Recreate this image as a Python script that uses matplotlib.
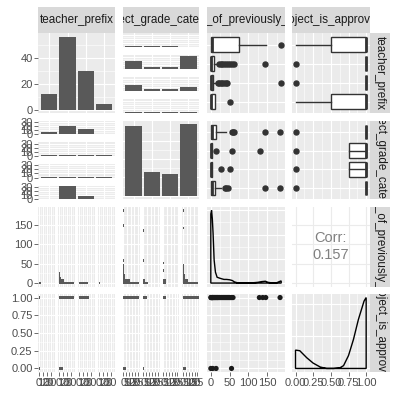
import numpy as np
import matplotlib
matplotlib.use('Agg')
import matplotlib.pyplot as plt

plt.rcParams['font.family'] = ['Liberation Sans', 'DejaVu Sans']

W = H = 397
DPI = 100

# ---------------- data ----------------
var_names = ['teacher_prefix', 'project_grade_category',
             'teacher_number_of_previously_posted_projects', 'project_is_approved']

prefix_counts = [12, 56, 30, 4]           # diag row1
grade_counts = [38, 13, 12, 39]           # diag row2

# upper facet bars (row1,col2): facets = prefix levels (top->bottom), x = grade
prefix_by_grade = [[2, 2, 2, 0], [19, 5, 5, 31], [14, 5, 5, 10], [2, 2, 2, 2]]
# lower facet bars (row2,col1): facets = grade levels (top->bottom), x = prefix
grade_by_prefix = [[5, 20, 14, 1], [2, 2, 2, 1], [2, 2, 2, 2], [0, 32, 8, 1]]

# boxplots of previously posted projects (top->bottom): whislo, q1, med, q3, whishi
prev_box_prefix = [[0, 0, 3, 74, 147], [0, 0, 1, 8, 17], [0, 0, 1, 6, 14], [0, 0, 0, 12, 12]]
prev_out_prefix = [[186], [22, 26, 30, 35, 40, 45, 50, 56, 62, 144],
                   [18, 22, 26, 30, 35, 40, 44, 186], [50]]
prev_box_grade = [[0, 0, 2, 15, 41], [0, 0, 1, 4, 4], [0, 0, 1, 3, 3], [0, 0, 2, 11, 28]]
prev_out_grade = [[55, 58, 62, 145, 184], [15, 56, 131], [28, 50], [37, 40, 45, 145, 184]]

# boxplots of project_is_approved (top->bottom)
appr_box_prefix = [[0, 0.5, 1, 1, 1], [1, 1, 1, 1, 1], [1, 1, 1, 1, 1], [0, 0.5, 1, 1, 1]]
appr_out_prefix = [[], [0], [0], []]
appr_box_grade = [[1, 1, 1, 1, 1], [1, 0.75, 1, 1, 1], [1, 0.75, 1, 1, 1], [1, 1, 1, 1, 1]]
appr_out_grade = [[0], [0], [0], [0]]

# histograms of previously posted projects (30 bins over 0..187), bin index -> count
prev_max = 187
prev_hist_prefix_bins = [[0, 9, 20, 29], [0, 1, 2, 3, 4, 5, 6, 7, 9, 22],
                         [0, 1, 2, 3, 4, 5, 6, 29], [0, 8]]
prev_hist_prefix_counts = [[5, 1, 1, 1], [38, 12, 4, 3, 3, 1, 1, 1, 1, 1],
                           [23, 1, 1, 1, 1, 1, 1, 1], [4, 1]]
prev_hist_grade_bins = [[0, 1, 2, 3, 4, 5, 6, 7, 9, 23, 29], [0, 1, 9, 21],
                        [0, 1, 5, 8], [0, 1, 2, 3, 4, 5, 6, 7, 22, 29]]
prev_hist_grade_counts = [[21, 9, 2, 2, 1, 1, 1, 1, 1, 1, 1], [7, 2, 1, 1],
                          [4, 4, 1, 1], [20, 7, 2, 2, 1, 1, 1, 1, 1, 1]]

# histograms of project_is_approved: counts at [0, 1]
appr_hist_prefix = [[2, 3], [9, 38], [1, 26], [0, 1]]
appr_hist_grade = [[5, 27], [1, 7], [0, 5], [5, 27]]

# scatter previously posted vs approved
scatter_prev_approved = [0, 1, 2, 3, 4, 5, 6, 8, 10, 12, 14, 16, 18, 20, 23, 26, 29, 32,
                         35, 38, 41, 44, 47, 50, 53, 56, 59, 129, 138, 146, 184]
scatter_prev_rejected = [0, 5, 14, 55]

# density of previously posted projects
prev_dens_x = [0, 2, 4, 6, 8.8, 12.3, 16.7, 22, 28, 35, 42, 50, 57, 63, 70, 85, 110,
               125, 135, 145, 152, 160, 175, 182, 187]
prev_dens_y = [0.057, 0.060, 0.053, 0.041, 0.019, 0.009, 0.0048, 0.0042, 0.0036, 0.003,
               0.003, 0.0027, 0.0021, 0.0009, 0.0003, 0.0002, 0.0002, 0.0006, 0.0012,
               0.0015, 0.0006, 0.00025, 0.00025, 0.0012, 0.0018]

# density of project_is_approved
appr_dens_x = [0, 0.06, 0.16, 0.25, 0.35, 0.44, 0.54, 0.63, 0.68, 0.75, 0.82, 0.89, 0.97, 1.0]
appr_dens_y = [0.57, 0.55, 0.33, 0.165, 0.044, 0.0, 0.0, 0.022, 0.088, 0.40, 0.90, 1.52, 2.09, 2.2]

corr_value = 0.157

# ---------------- layout ----------------
cols = [(38.3, 115.0), (122.7, 199.3), (207.3, 284.7), (292.0, 369.7)]
rows = [(33.3, 113.3), (120.7, 199.3), (206.7, 286.7), (294.0, 372.0)]
strip_top = (7.3, 33.3)
strip_right = (369.7, 390.0)

BG = '#EBEBEB'
BAR = '#595959'
DARK = '#333333'
TXT = '#4D4D4D'
FS = 8

fig = plt.figure(figsize=(W / DPI, H / DPI), dpi=DPI)
fig.patch.set_facecolor('white')


def add_ax(x0, x1, y0, y1):
    return fig.add_axes([x0 / W, 1 - y1 / H, (x1 - x0) / W, (y1 - y0) / H])


def style(ax, xmaj, xmin, ymaj, ymin, xlim, ylim, bg=BG, gc='white', minor=True):
    ax.set_facecolor(bg)
    for s in ax.spines.values():
        s.set_visible(False)
    ax.set_xticks(xmaj)
    ax.set_yticks(ymaj)
    ax.set_xticks(xmin, minor=True)
    ax.set_yticks(ymin, minor=True)
    ax.grid(True, which='major', color=gc, linewidth=0.8)
    if minor:
        ax.grid(True, which='minor', color=gc, linewidth=0.4)
    ax.set_axisbelow(True)
    ax.tick_params(which='both', length=0, labelleft=False, labelbottom=False)
    ax.set_xlim(*xlim)
    ax.set_ylim(*ylim)


def left_labels(ax, labels):
    ax.tick_params(axis='y', which='major', length=2.6, width=0.5, color=DARK,
                   labelleft=True, labelsize=FS, labelcolor=TXT, pad=1.5)
    ax.set_yticklabels(labels)


def bottom_labels(ax, labels):
    ax.tick_params(axis='x', which='major', length=2.6, width=0.5, color=DARK,
                   labelbottom=True, labelsize=FS, labelcolor=TXT, pad=1.5)
    ax.set_xticklabels(labels)


def hsplit(x0, x1, n=4, gap=3.0):
    w = (x1 - x0 - gap * (n - 1)) / n
    return [(x0 + k * (w + gap), x0 + k * (w + gap) + w) for k in range(n)]


def vsplit(y0, y1, n=4, gap=8.0):
    h = (y1 - y0 - gap * (n - 1)) / n
    return [(y0 + k * (h + gap), y0 + k * (h + gap) + h) for k in range(n)]


cat_pos = [1, 2, 3, 4]
cat_lim = (0.4, 4.6)
prev_lim = (-0.05 * prev_max, 1.05 * prev_max)
prev_maj = [0, 50, 100, 150]
prev_min = [25, 75, 125, 175]
appr_lim = (-0.05, 1.05)
appr_maj = [0, 0.25, 0.5, 0.75, 1.0]
appr_min = [0.125, 0.375, 0.625, 0.875]
bw_prev = prev_max / 29.0
bw_appr = 1 / 29.0

# ---------- strips ----------
for j, (x0, x1) in enumerate(cols):
    s = add_ax(x0, x1, strip_top[0], strip_top[1])
    s.set_facecolor('#D9D9D9')
    s.set_xticks([]); s.set_yticks([])
    for sp in s.spines.values():
        sp.set_visible(False)
    s.text(0.5, 0.5, var_names[j], ha='center', va='center', fontsize=8.4,
           color='#1A1A1A', transform=s.transAxes, clip_on=True)
for i, (y0, y1) in enumerate(rows):
    s = add_ax(strip_right[0], strip_right[1], y0, y1)
    s.set_facecolor('#D9D9D9')
    s.set_xticks([]); s.set_yticks([])
    for sp in s.spines.values():
        sp.set_visible(False)
    s.text(0.5, 0.5, var_names[i], ha='center', va='center', rotation=-90, fontsize=8.4,
           color='#1A1A1A', transform=s.transAxes, clip_on=True)

# ---------- row 1 ----------
ax = add_ax(*cols[0], *rows[0])
m = max(prefix_counts)
style(ax, cat_pos, [], [0, 20, 40], [10, 30, 50], cat_lim, (-0.05 * m, 1.05 * m))
ax.bar(cat_pos, prefix_counts, width=0.9, color=BAR)
left_labels(ax, ['0', '20', '40'])

for k, (y0, y1) in enumerate(vsplit(*rows[0])):
    ax = add_ax(*cols[1], y0, y1)
    style(ax, cat_pos, [], [0, 10, 20, 30], [5, 15, 25], cat_lim, (-0.3, 33.5))
    ax.bar(cat_pos, prefix_by_grade[k], width=0.9, color=BAR)


def boxes(ax, qs, outs):
    stats = []
    for q, o in zip(qs, outs):
        stats.append(dict(whislo=q[0], q1=q[1], med=q[2], q3=q[3], whishi=q[4],
                          fliers=np.array(o, dtype=float)))
    kw = dict(positions=[4, 3, 2, 1], widths=0.78, showcaps=False, patch_artist=True,
              boxprops=dict(facecolor='white', edgecolor=DARK, linewidth=1.0),
              whiskerprops=dict(color=DARK, linewidth=1.0),
              medianprops=dict(color=DARK, linewidth=2.0),
              flierprops=dict(marker='o', markerfacecolor=DARK, markeredgecolor=DARK,
                              markersize=3.6, linestyle='none'),
              manage_ticks=False)
    try:
        ax.bxp(stats, orientation='horizontal', **kw)
    except TypeError:
        ax.bxp(stats, vert=False, **kw)


ax = add_ax(*cols[2], *rows[0])
style(ax, prev_maj, prev_min, cat_pos, [], prev_lim, cat_lim)
boxes(ax, prev_box_prefix, prev_out_prefix)

ax = add_ax(*cols[3], *rows[0])
style(ax, appr_maj, appr_min, cat_pos, [], appr_lim, cat_lim)
boxes(ax, appr_box_prefix, appr_out_prefix)

# ---------- row 2 ----------
for k, (y0, y1) in enumerate(vsplit(*rows[1])):
    ax = add_ax(*cols[0], y0, y1)
    style(ax, cat_pos, [], [0, 10, 20, 30], [5, 15, 25], cat_lim, (-0.3, 33.5))
    ax.bar(cat_pos, grade_by_prefix[k], width=0.9, color=BAR)
    left_labels(ax, ['0', '10', '20', '30'])

ax = add_ax(*cols[1], *rows[1])
m = max(grade_counts)
style(ax, cat_pos, [], [0, 10, 20, 30], [5, 15, 25, 35], cat_lim, (-0.05 * m, 1.05 * m))
ax.bar(cat_pos, grade_counts, width=0.9, color=BAR)

ax = add_ax(*cols[2], *rows[1])
style(ax, prev_maj, prev_min, cat_pos, [], prev_lim, cat_lim)
boxes(ax, prev_box_grade, prev_out_grade)

ax = add_ax(*cols[3], *rows[1])
style(ax, appr_maj, appr_min, cat_pos, [], appr_lim, cat_lim)
boxes(ax, appr_box_grade, appr_out_grade)

# ---------- row 3 ----------
def prev_hist_facets(col, bins_list, counts_list, cmax, xmaj, xmin):
    for k, (x0, x1) in enumerate(hsplit(*cols[col])):
        ax = add_ax(x0, x1, *rows[2])
        style(ax, xmaj, xmin, prev_maj, prev_min, (-0.05 * cmax, 1.05 * cmax), prev_lim)
        b = np.array(bins_list[k]) * bw_prev
        ax.barh(b, counts_list[k], height=bw_prev, color=BAR, left=0)
        if col == 0 and k == 0:
            left_labels(ax, ['0', '50', '100', '150'])


prev_hist_facets(0, prev_hist_prefix_bins, prev_hist_prefix_counts,
                 max(max(c) for c in prev_hist_prefix_counts), [0, 10, 20, 30], [5, 15, 25, 35])
prev_hist_facets(1, prev_hist_grade_bins, prev_hist_grade_counts,
                 max(max(c) for c in prev_hist_grade_counts), [0, 5, 10, 15, 20], [])

ax = add_ax(*cols[2], *rows[2])
m = max(prev_dens_y)
style(ax, prev_maj, prev_min, [0, 0.02, 0.04, 0.06], [0.01, 0.03, 0.05], prev_lim,
      (-0.05 * m, 1.05 * m))
dx = np.r_[prev_dens_x[0], prev_dens_x, prev_dens_x[-1]]
dy = np.r_[0, prev_dens_y, 0]
ax.fill(dx, dy, facecolor='none', edgecolor='black', linewidth=1.0)

ax = add_ax(*cols[3], *rows[2])
style(ax, appr_maj, [], prev_maj, [], appr_lim, prev_lim, bg='white', gc='#EBEBEB',
      minor=False)
ax.text(0.5, 0.5, 'Corr:\n%.3f' % corr_value, transform=ax.transAxes, ha='center',
        va='center', fontsize=10.5, color='#808080', linespacing=1.25)

# ---------- row 4 ----------
def appr_hist_facets(col, counts_list, cmax, xmaj, xmin, labels):
    for k, (x0, x1) in enumerate(hsplit(*cols[col])):
        ax = add_ax(x0, x1, *rows[3])
        style(ax, xmaj, xmin, appr_maj, appr_min, (-0.05 * cmax, 1.05 * cmax), appr_lim)
        ax.barh([0, 1], counts_list[k], height=bw_appr, color=BAR, left=0)
        bottom_labels(ax, labels)
        if col == 0 and k == 0:
            left_labels(ax, ['0.00', '0.25', '0.50', '0.75', '1.00'])


appr_hist_facets(0, appr_hist_prefix, max(max(c) for c in appr_hist_prefix),
                 [0, 10, 20, 30], [5, 15, 25, 35], ['0', '10', '20', '30'])
appr_hist_facets(1, appr_hist_grade, max(max(c) for c in appr_hist_grade),
                 [0, 5, 10, 15, 20, 25], [], ['0', '5', '10', '15', '20', '25'])

ax = add_ax(*cols[2], *rows[3])
style(ax, prev_maj, prev_min, appr_maj, appr_min, prev_lim, appr_lim)
ax.scatter(scatter_prev_approved, [1] * len(scatter_prev_approved), s=14, c='#1A1A1A',
           edgecolors='none', zorder=3)
ax.scatter(scatter_prev_rejected, [0] * len(scatter_prev_rejected), s=14, c='#1A1A1A',
           edgecolors='none', zorder=3)
bottom_labels(ax, ['0', '50', '100', '150'])

ax = add_ax(*cols[3], *rows[3])
m = max(appr_dens_y)
style(ax, appr_maj, appr_min, [0, 1, 2], [0.5, 1.5], appr_lim, (-0.05 * m, 1.05 * m))
dx = np.r_[appr_dens_x[0], appr_dens_x, appr_dens_x[-1]]
dy = np.r_[0, appr_dens_y, 0]
ax.fill(dx, dy, facecolor='none', edgecolor='black', linewidth=1.0)
bottom_labels(ax, ['0.00', '0.25', '0.50', '0.75', '1.00'])

fig.savefig('out.png', dpi=DPI)
